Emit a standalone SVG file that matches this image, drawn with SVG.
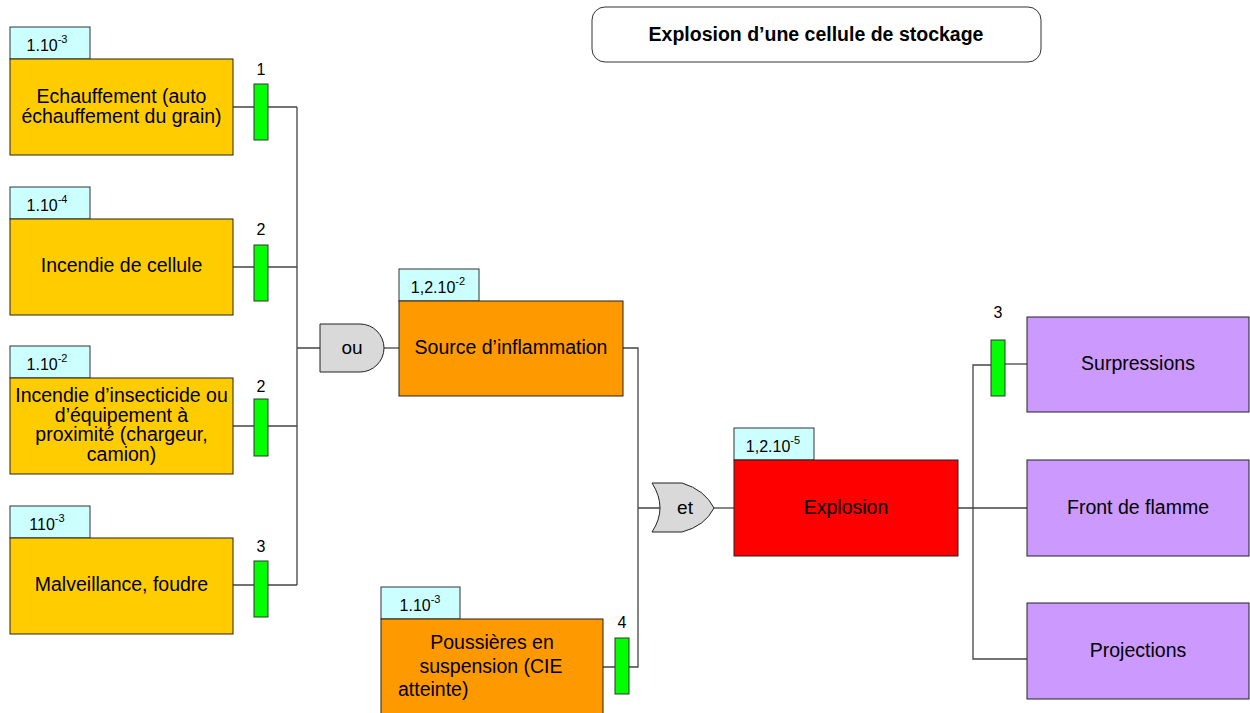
<svg xmlns="http://www.w3.org/2000/svg" width="1250" height="713" viewBox="0 0 1250 713">
<style>
text{font-family:"Liberation Sans",Arial,sans-serif;fill:#000}
.box{stroke:#222;stroke-width:1}
.yel{fill:#FFCC00}
.ora{fill:#FF9900}
.red{fill:#FF0000}
.pur{fill:#CC99FF}
.tab{fill:#CCFFFF;stroke:#333;stroke-width:1}
.bar{fill:#00FF00;stroke:#333;stroke-width:1}
.gate{fill:#D9D9D9;stroke:#222;stroke-width:1}
.lbl{font-size:19.5px;text-anchor:middle}
.prob{font-size:16px;text-anchor:middle}
.num{font-size:16px;text-anchor:middle}
.conn{fill:none;stroke:#444;stroke-width:1.3}
</style>
<rect width="1250" height="713" fill="#fff"/>

<g id="connectors">
<path class="conn" d="M233,107 H297 M233,267 H297 M233,426 H297 M233,585 H297 M297,107 V585 M297,348 H320"/>
<path class="conn" d="M384,348 H399"/>
<path class="conn" d="M603,667 H638 V348 H623 M638,508 H660"/>
<path class="conn" d="M714,508 H734"/>
<path class="conn" d="M958,508 H1027 M1027,659 H973 V365 H991"/>
<path class="conn" d="M1005,364 H1027" stroke-width="2"/>
</g>

<g id="title">
<rect x="592" y="7" width="449" height="55" rx="13" fill="#fff" stroke="#333" stroke-width="1"/>
<text x="816" y="41" font-size="19.5" font-weight="bold" text-anchor="middle">Explosion d’une cellule de stockage</text>
</g>

<g id="n1">
<rect class="tab" x="10" y="27" width="80" height="32"/>
<text class="prob" x="47" y="51">1.10<tspan font-size="11" dy="-8">-3</tspan></text>
<rect class="box yel" x="10" y="59" width="223" height="96"/>
<text class="lbl" x="121.5" y="103">Echauffement (auto</text>
<text class="lbl" x="121.5" y="122.5">échauffement du grain)</text>
</g>
<g id="b1">
<text class="num" x="261" y="75">1</text>
<rect class="bar" x="254" y="84" width="14" height="56"/>
</g>

<g id="n2">
<rect class="tab" x="10" y="187" width="80" height="32"/>
<text class="prob" x="47" y="211">1.10<tspan font-size="11" dy="-8">-4</tspan></text>
<rect class="box yel" x="10" y="219" width="223" height="96"/>
<text class="lbl" x="121.5" y="272">Incendie de cellule</text>
</g>
<g id="b2">
<text class="num" x="261" y="235">2</text>
<rect class="bar" x="254" y="245" width="14" height="56"/>
</g>

<g id="n3">
<rect class="tab" x="10" y="346" width="80" height="32"/>
<text class="prob" x="47" y="370">1.10<tspan font-size="11" dy="-8">-2</tspan></text>
<rect class="box yel" x="10" y="378" width="223" height="96"/>
<text class="lbl" x="121.5" y="402">Incendie d’insecticide ou</text>
<text class="lbl" x="121.5" y="421.5">d’équipement à</text>
<text class="lbl" x="121.5" y="441">proximité (chargeur,</text>
<text class="lbl" x="121.5" y="460.5">camion)</text>
</g>
<g id="b3">
<text class="num" x="261" y="392">2</text>
<rect class="bar" x="254" y="399" width="14" height="57"/>
</g>

<g id="n4">
<rect class="tab" x="10" y="506" width="80" height="32"/>
<text class="prob" x="47" y="530">110<tspan font-size="11" dy="-8">-3</tspan></text>
<rect class="box yel" x="10" y="538" width="223" height="96"/>
<text class="lbl" x="121.5" y="591">Malveillance, foudre</text>
</g>
<g id="b4">
<text class="num" x="261" y="552">3</text>
<rect class="bar" x="254" y="561" width="14" height="56"/>
</g>

<g id="gate-ou">
<path class="gate" d="M320,324 H360 A24,24 0 0 1 360,372 H320 Z"/>
<text x="352" y="354" font-size="19" text-anchor="middle">ou</text>
</g>

<g id="n-source">
<rect class="tab" x="399" y="269" width="80" height="32"/>
<text class="prob" x="438" y="293">1,2.10<tspan font-size="11" dy="-8">-2</tspan></text>
<rect class="box ora" x="399" y="301" width="224" height="95"/>
<text class="lbl" x="511" y="354">Source d’inflammation</text>
</g>

<g id="n-poussieres">
<rect class="tab" x="381" y="587" width="79" height="32"/>
<text class="prob" x="420" y="611">1.10<tspan font-size="11" dy="-8">-3</tspan></text>
<rect class="box ora" x="381" y="619" width="222" height="100"/>
<text class="lbl" x="492" y="649">Poussières en</text>
<text class="lbl" x="491" y="673">suspension (CIE</text>
<text x="398" y="696" font-size="19.5">atteinte)</text>
</g>
<g id="b5">
<text class="num" x="622" y="628">4</text>
<rect class="bar" x="615" y="638" width="14" height="56"/>
</g>

<g id="gate-et">
<path class="gate" d="M652,483 Q668,508 652,532 H682 Q705,526 714,508 Q705,490 682,483 Z"/>
<text x="685" y="514" font-size="19" text-anchor="middle">et</text>
</g>

<g id="n-explosion">
<rect class="tab" x="734" y="428" width="80" height="32"/>
<text class="prob" x="773" y="452">1,2.10<tspan font-size="11" dy="-8">-5</tspan></text>
<rect class="box red" x="734" y="460" width="224" height="96"/>
<text class="lbl" x="846" y="514">Explosion</text>
</g>

<g id="n-surpressions">
<rect class="box pur" x="1027" y="317" width="222" height="95"/>
<text class="lbl" x="1138" y="370">Surpressions</text>
</g>
<g id="b6">
<text class="num" x="998" y="318">3</text>
<rect class="bar" x="991" y="340" width="14" height="56"/>
</g>

<g id="n-front">
<rect class="box pur" x="1027" y="460" width="222" height="96"/>
<text class="lbl" x="1138" y="514">Front de flamme</text>
</g>

<g id="n-projections">
<rect class="box pur" x="1027" y="603" width="222" height="96"/>
<text class="lbl" x="1138" y="657">Projections</text>
</g>
</svg>
